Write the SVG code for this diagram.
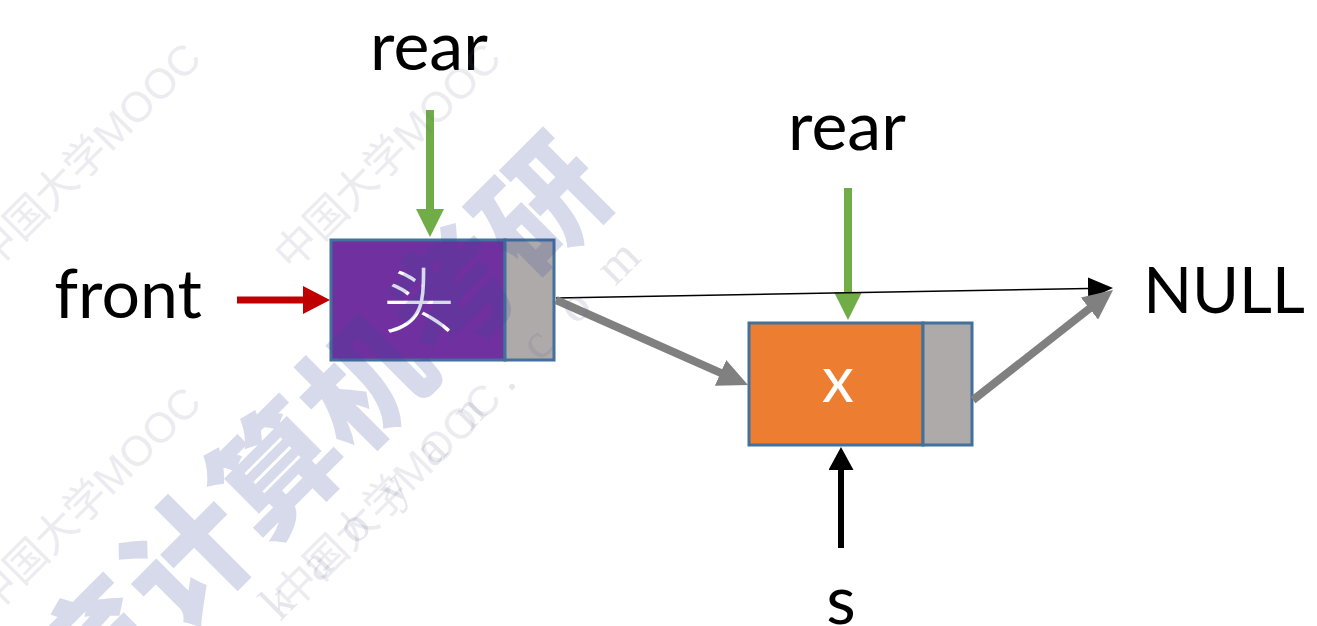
<svg xmlns="http://www.w3.org/2000/svg" width="1317" height="626" viewBox="0 0 1317 626">
  <style>
    .lbl { font-family: Lato, "Open Sans", "Liberation Sans", sans-serif; font-size: 68px; fill: #000; text-anchor: middle; }
    .inner { font-family: Lato, "Noto Sans CJK SC", sans-serif; font-size: 64px; fill: #fff; text-anchor: middle; }
    .han { font-family: "Noto Sans CJK SC", sans-serif; font-weight: 300; font-size: 72px; }
    .data { stroke: #41719C; stroke-width: 3; }
    .next { fill: #AEAAAA; stroke: #41719C; stroke-width: 3; }
    .wm-big { font-family: "Noto Sans CJK SC", sans-serif; font-weight: 900; font-size: 125px; fill: #3A4A9A; opacity: 0.2; }
    .wm-small { font-family: "Liberation Sans", "Noto Sans CJK SC", sans-serif; font-size: 42px; fill: #6A6A90; opacity: 0.13; }
    .wm-site { font-family: "Liberation Serif", serif; font-size: 50px; fill: #6A6A90; opacity: 0.16; letter-spacing: 30px; }
  </style>
  <defs>
    <marker id="headGreen" viewBox="0 0 28 28" refX="8" refY="14" markerWidth="28" markerHeight="28" orient="auto" markerUnits="userSpaceOnUse">
      <path d="M0,0 L28,14 L0,28 z" fill="#70AD47"/>
    </marker>
    <marker id="headRed" viewBox="0 0 27 28" refX="7" refY="14" markerWidth="27" markerHeight="28" orient="auto" markerUnits="userSpaceOnUse">
      <path d="M0,0 L27,14 L0,28 z" fill="#C00000"/>
    </marker>
    <marker id="headBlack" viewBox="0 0 23 25" refX="7" refY="12.5" markerWidth="23" markerHeight="25" orient="auto" markerUnits="userSpaceOnUse">
      <path d="M0,0 L23,12.5 L0,25 z" fill="#000"/>
    </marker>
    <marker id="headThin" viewBox="0 0 25 22" refX="15" refY="11" markerWidth="25" markerHeight="22" orient="auto" markerUnits="userSpaceOnUse">
      <path d="M0,0 L25,11 L0,22 z" fill="#000"/>
    </marker>
    <marker id="headGray" viewBox="0 0 30 28" refX="10" refY="14" markerWidth="30" markerHeight="28" orient="auto" markerUnits="userSpaceOnUse">
      <path d="M0,0 L30,14 L0,28 z" fill="#808080"/>
    </marker>
  </defs>

  <rect width="1317" height="626" fill="#fff"/>

  <!-- labels -->
  <g id="labels">
    <text class="lbl" x="429" y="70">rear</text>
    <text class="lbl" x="847" y="150">rear</text>
    <text class="lbl" x="128" y="318">front</text>
    <text class="lbl" x="1224" y="313" style="font-size: 64px;">NULL</text>
    <text class="lbl" x="841" y="624">s</text>
  </g>

  <!-- head node -->
  <g id="node-head">
    <rect class="data" x="331" y="240" width="174" height="120" fill="#7030A0"/>
    <rect class="next" x="505" y="240" width="49" height="120"/>
    <text class="inner han" x="419" y="327">头</text>
  </g>

  <!-- x node -->
  <g id="node-x">
    <rect class="data" x="749" y="323" width="174" height="122" fill="#ED7D31"/>
    <rect class="next" x="923" y="323" width="49" height="122"/>
    <text class="inner" x="838" y="402">x</text>
  </g>

  <!-- pointers and links -->
  <g id="connectors" fill="none">
    <line x1="430" y1="110" x2="430" y2="217" stroke="#70AD47" stroke-width="8" marker-end="url(#headGreen)"/>
    <line x1="848" y1="188" x2="848" y2="300" stroke="#70AD47" stroke-width="8" marker-end="url(#headGreen)"/>
    <line x1="237" y1="300" x2="310" y2="300" stroke="#C00000" stroke-width="7" marker-end="url(#headRed)"/>
    <line x1="841" y1="548" x2="841" y2="463" stroke="#000" stroke-width="6" marker-end="url(#headBlack)"/>
    <line x1="556" y1="298" x2="1103" y2="288.2" stroke="#000" stroke-width="1.6" marker-end="url(#headThin)"/>
    <line x1="556" y1="300" x2="729.7" y2="376.9" stroke="#808080" stroke-width="8" marker-end="url(#headGray)"/>
    <line x1="973" y1="400" x2="1097.3" y2="302.4" stroke="#808080" stroke-width="8" marker-end="url(#headGray)"/>
  </g>

  <!-- site watermark overlay -->
  <g id="watermark">
    <text class="wm-small" transform="translate(-8,272) rotate(-45)">中国大学MOOC</text>
    <text class="wm-small" transform="translate(292,272) rotate(-45)">中国大学MOOC</text>
    <text class="wm-small" transform="translate(-8,616) rotate(-45)">中国大学MOOC</text>
    <text class="wm-small" transform="translate(292,612) rotate(-45)">中国大学MOOC</text>
    <text class="wm-site" transform="translate(280,622) rotate(-45)">kaoyan.com</text>
    <text class="wm-big" transform="translate(88,724) rotate(-45)">育计算机考研</text>
  </g>
</svg>
